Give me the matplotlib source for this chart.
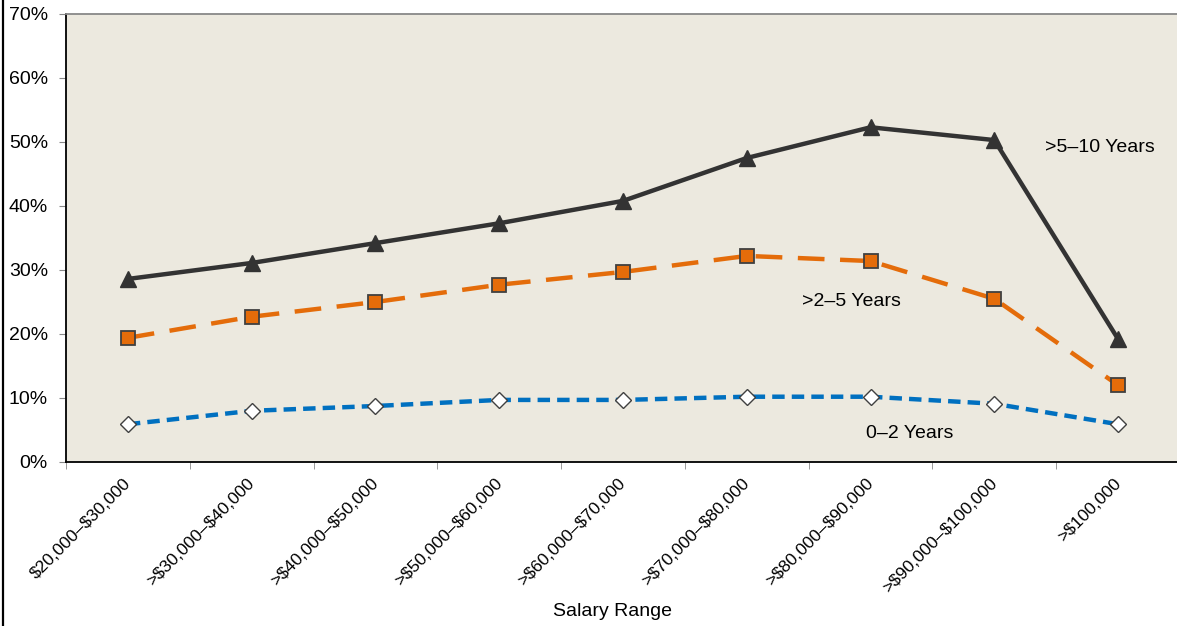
import numpy as np
import matplotlib.pyplot as plt
from matplotlib.lines import Line2D

plt.rcParams['font.family'] = ['Liberation Sans', 'DejaVu Sans']

# категории по оси x
salary = ['$20,000–$30,000', '>$30,000–$40,000', '>$40,000–$50,000',
          '>$50,000–$60,000', '>$60,000–$70,000', '>$70,000–$80,000',
          '>$80,000–$90,000', '>$90,000–$100,000', '>$100,000']

# доли, %
years_5_10 = [28.6, 31.1, 34.2, 37.3, 40.8, 47.5, 52.3, 50.3, 19.2]
years_2_5 = [19.4, 22.7, 25.0, 27.7, 29.7, 32.2, 31.4, 25.5, 12.0]
years_0_2 = [5.9, 8.0, 8.75, 9.7, 9.7, 10.2, 10.2, 9.1, 5.9]

W, H = 1177, 626
fig = plt.figure(figsize=(W / 100, H / 100), dpi=100)
ax = fig.add_axes([66 / W, (H - 462) / H, (1180 - 66) / W, 448 / H])
ax.set_facecolor('#ECE9DF')

x = np.arange(len(salary))

ax.plot(x, years_5_10, color='#333333', lw=3.2, marker='^', ms=11,
        mfc='#333333', mec='#333333', zorder=3)
ax.plot(x, years_2_5, color='#E46C0A', lw=3.2, dashes=(6, 3.5), marker='s',
        ms=10, mfc='#E46C0A', mec='#404040', mew=1.3, zorder=3)
ax.plot(x, years_0_2, color='#0070C0', lw=3.2, dashes=(2.8, 1.6), marker='D',
        ms=8, mfc='white', mec='#404040', mew=1.0, zorder=3)

ax.text(7.41, 49.2, '>5–10 Years', fontsize=14, va='center', ha='left')
ax.text(5.45, 25.0, '>2–5 Years', fontsize=14, va='center', ha='left')
ax.text(5.96, 4.4, '0–2 Years', fontsize=14, va='center', ha='left')

ax.set_xlim(-0.5, len(salary) - 0.5)
ax.set_ylim(0, 70)
ax.set_yticks(np.arange(0, 71, 10))
ax.set_yticklabels([f'{v}%' for v in range(0, 71, 10)], fontsize=14)

# подписи чуть левее центра категории, как в оригинале
ax.set_xticks(x - 0.04)
ax.set_xticklabels([s.replace('$', r'\$') for s in salary], rotation=45,
                   ha='right', va='top', rotation_mode='anchor', fontsize=12.5)
ax.set_xticks(np.arange(-0.5, len(salary), 1), minor=True)
ax.tick_params(axis='x', which='major', length=0, pad=10)
ax.tick_params(axis='x', which='minor', length=5, color='#888888')
ax.tick_params(axis='y', length=5, color='#888888', pad=8)

ax.spines['left'].set_color('black')
ax.spines['bottom'].set_color('black')
ax.spines['left'].set_linewidth(1.3)
ax.spines['bottom'].set_linewidth(1.3)
ax.spines['top'].set_color('#888888')
ax.spines['top'].set_linewidth(1.3)
ax.spines['right'].set_visible(False)

ax.set_xlabel('Salary Range', fontsize=14)
ax.xaxis.set_label_coords(0.491, -0.315)

# рамка слева
fig.add_artist(Line2D([3 / W, 3 / W], [0, 1], color='black', lw=1.6))

plt.savefig('out.png', dpi=100)
